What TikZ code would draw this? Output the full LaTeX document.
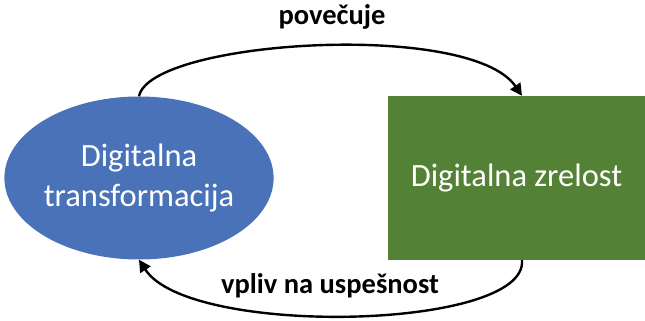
\documentclass[tikz,border=0pt]{standalone}
\usepackage{fontspec}
\setmainfont{Carlito}
\usepackage{tikz}
\usetikzlibrary{shapes.geometric, arrows.meta, positioning}

\definecolor{dtblue}{HTML}{4A72B8}
\definecolor{dzgreen}{HTML}{538135}

\begin{document}
\begin{tikzpicture}[
        x=1pt, y=-1pt,
        shapetext/.style={text=white, align=center, font=\fontsize{32.5}{40}\selectfont, inner sep=0pt},
        ellbox/.style={ellipse, fill=dtblue, shapetext, minimum width=266pt, minimum height=163pt},
        recbox/.style={rectangle, fill=dzgreen, shapetext, minimum width=257pt, minimum height=164pt},
        lbl/.style={font=\fontsize{28.5}{30}\selectfont\bfseries, inner sep=0pt},
        arrow/.style={-{Triangle[length=12pt, width=12pt]}, line width=2.4pt}
    ]
    \useasboundingbox (0,0) rectangle (645,321);

    % Shapes
    \node[ellbox] (transf) at (139,178) {Digitalna\\transformacija};
    \node[recbox] (zrelost) at (516.5,178) {Digitalna zrelost};

    % Labels
    \node[lbl] (povecuje) at (332,17) {povečuje};
    \node[lbl] (vpliv) at (330,286) {vpliv na uspešnost};

    % Arrows
    \draw[arrow] (transf.north) .. controls +(11,-56) and +(-52,-76) .. ([xshift=5.5pt]zrelost.north);
    \draw[arrow] ([xshift=5.5pt]zrelost.south) .. controls +(6,70) and +(50,78) .. (transf.south);

\end{tikzpicture}
\end{document}
